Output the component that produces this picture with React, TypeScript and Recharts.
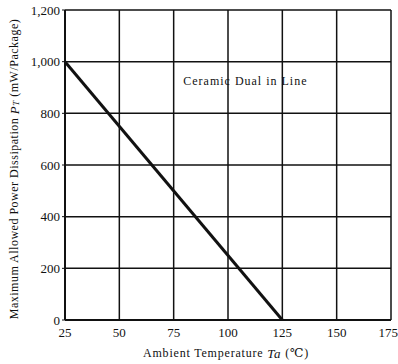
import React from "react";
import {
  LineChart,
  Line,
  XAxis,
  YAxis,
  CartesianGrid,
  ReferenceDot,
  Label,
} from "recharts";

const temperatures = [25, 125];
const power = [1000, 0];
const xTicks = [25, 50, 75, 100, 125, 150, 175];
const yTicks = [0, 200, 400, 600, 800, 1000, 1200];
const noteText = "Ceramic Dual in Line";

const data = temperatures.map((t, i) => ({ t, p: power[i] }));

const FONT = "'Liberation Serif', 'DejaVu Serif', serif";

const fmt = (v: number) => v.toLocaleString("en-US");

const YTitle = (props: any) => {
  const vb = props.viewBox || {};
  const cx = 14;
  const cy = vb.y + vb.height / 2 + 4;
  return (
    <text
      x={cx}
      y={cy}
      transform={`rotate(-90 ${cx} ${cy})`}
      textAnchor="middle"
      dominantBaseline="central"
      fontFamily={FONT}
      fontSize={12}
      letterSpacing={0.5}
      fill="#111"
    >
      Maximum Allowed Power Dissipation{" "}
      <tspan fontStyle="italic" fontSize={13}>P</tspan>
      <tspan fontStyle="italic" fontSize={9} dy={2}>T</tspan>
      <tspan dy={-2}> (mW/Package)</tspan>
    </text>
  );
};

const XTitle = (props: any) => {
  const vb = props.viewBox || {};
  const cx = vb.x + vb.width / 2 - 2;
  const cy = 353;
  return (
    <text
      x={cx}
      y={cy}
      textAnchor="middle"
      dominantBaseline="central"
      fontFamily={FONT}
      fontSize={12}
      letterSpacing={0.8}
      fill="#111"
    >
      Ambient Temperature{" "}
      <tspan fontStyle="italic" fontSize={13}>Ta</tspan> (℃)
    </text>
  );
};

export default function App() {
  return (
    <div style={{ position: "absolute", left: 0, top: 0, background: "#fff" }}>
      <LineChart
        width={398}
        height={364}
        data={data}
        margin={{ top: 10, right: 7, left: 5, bottom: 14 }}
      >
        <CartesianGrid stroke="#111" strokeWidth={1.5} />
        <XAxis
          dataKey="t"
          type="number"
          domain={[25, 175]}
          ticks={xTicks}
          height={30}
          tickLine={false}
          axisLine={{ stroke: "#111", strokeWidth: 2 }}
          tick={{ fontFamily: FONT, fontSize: 13, fill: "#111" }}
          tickMargin={2}
        >
          <Label content={XTitle} />
        </XAxis>
        <YAxis
          type="number"
          domain={[0, 1200]}
          ticks={yTicks}
          width={60}
          tickSize={3}
          tickFormatter={fmt}
          tickLine={{ stroke: "#111" }}
          axisLine={{ stroke: "#111", strokeWidth: 2 }}
          tick={{ fontFamily: FONT, fontSize: 13, fill: "#111" }}
        >
          <Label content={YTitle} />
        </YAxis>
        <Line
          dataKey="p"
          stroke="#111"
          strokeWidth={3}
          dot={false}
          isAnimationActive={false}
        />
        <ReferenceDot
          x={108}
          y={925}
          r={0}
          fill="none"
          stroke="none"
          label={{
            value: noteText,
            position: "center",
            fontFamily: FONT,
            fontSize: 12,
            letterSpacing: 1,
            fill: "#111",
          }}
        />
      </LineChart>
    </div>
  );
}
